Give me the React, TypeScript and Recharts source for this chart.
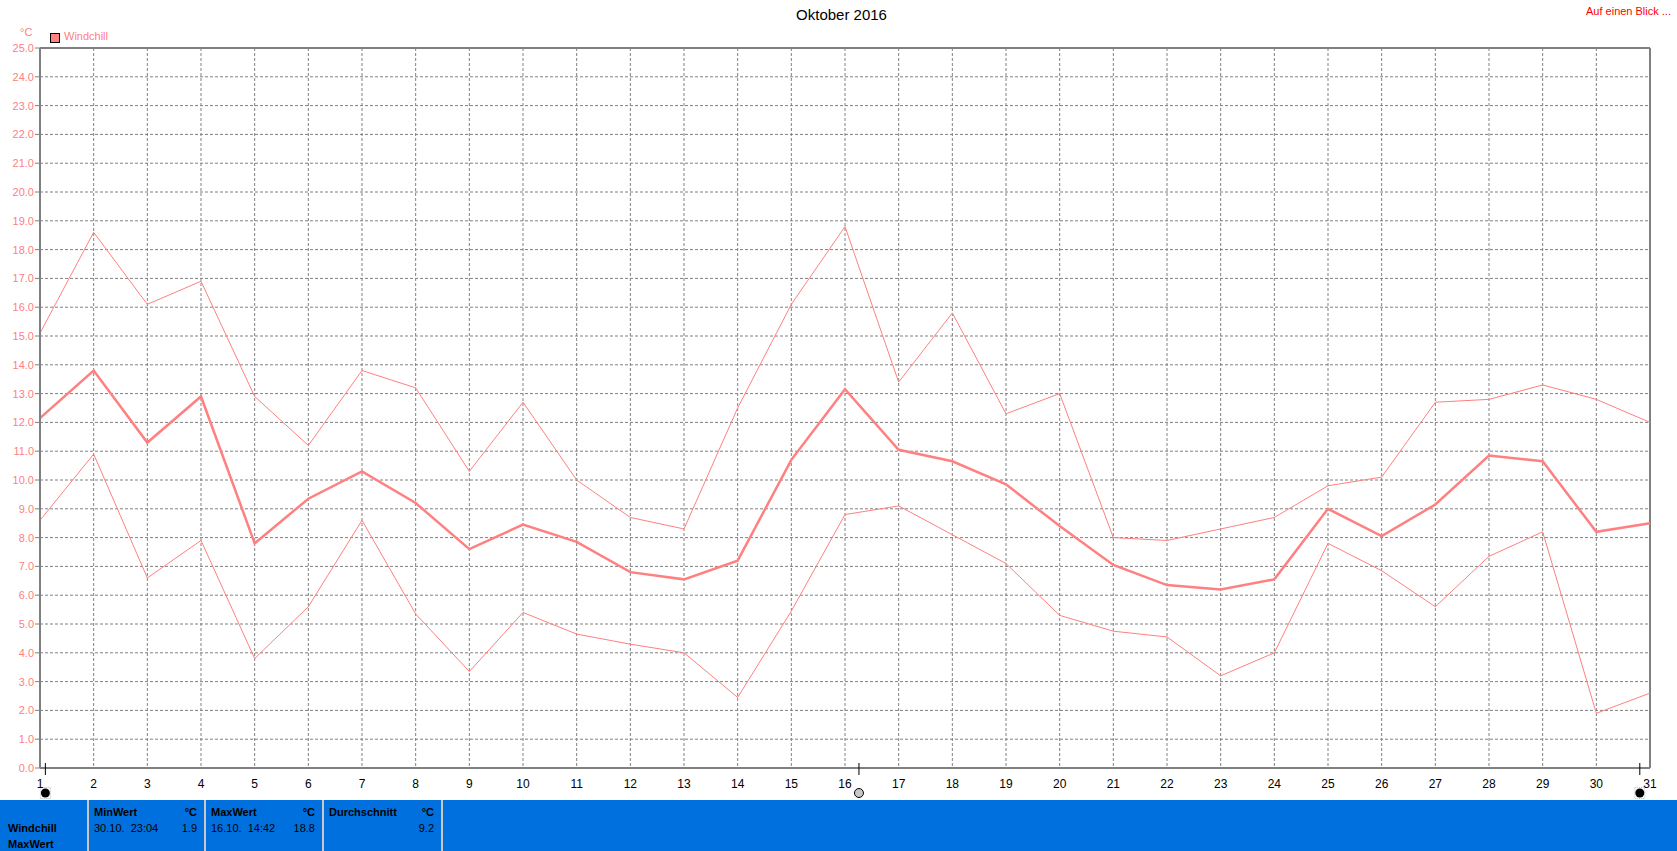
import React from "react";
import {
  LineChart,
  Line,
  XAxis,
  YAxis,
  CartesianGrid,
  ReferenceLine,
  ReferenceDot,
} from "recharts";

const days = [1, 2, 3, 4, 5, 6, 7, 8, 9, 10, 11, 12, 13, 14, 15, 16, 17, 18, 19, 20, 21, 22, 23, 24, 25, 26, 27, 28, 29, 30, 31];
const maxValues = [15.1, 18.6, 16.1, 16.9, 12.9, 11.2, 13.8, 13.2, 10.3, 12.7, 10.0, 8.7, 8.3, 12.5, 16.1, 18.8, 13.4, 15.8, 12.3, 13.0, 8.0, 7.9, 8.3, 8.7, 9.8, 10.1, 12.7, 12.8, 13.3, 12.8, 12.0];
const avgValues = [12.15, 13.8, 11.3, 12.9, 7.8, 9.35, 10.3, 9.2, 7.6, 8.45, 7.85, 6.8, 6.55, 7.2, 10.7, 13.15, 11.05, 10.65, 9.85, 8.4, 7.05, 6.35, 6.2, 6.55, 9.0, 8.05, 9.15, 10.85, 10.65, 8.2, 8.5];
const minValues = [8.6, 10.9, 6.6, 7.9, 3.8, 5.6, 8.6, 5.35, 3.35, 5.4, 4.65, 4.3, 4.0, 2.45, 5.45, 8.8, 9.1, 8.1, 7.1, 5.3, 4.75, 4.55, 3.2, 4.0, 7.8, 6.85, 5.6, 7.35, 8.2, 1.9, 2.6];
const yTicks = [0, 1, 2, 3, 4, 5, 6, 7, 8, 9, 10, 11, 12, 13, 14, 15, 16, 17, 18, 19, 20, 21, 22, 23, 24, 25];
const markerDays = [1.1, 16.26, 30.81];
const markerKinds = ["solid", "hatched", "solid"];

const tableHeaders = ["MinWert", "MaxWert", "Durchschnitt"];
const tableTimes = ["30.10.  23:04", "16.10.  14:42", ""];
const tableValues = ["1.9", "18.8", "9.2"];

const chartData = days.map((d, i) => ({
  day: d,
  max: maxValues[i],
  avg: avgValues[i],
  min: minValues[i],
}));

const PINK = "#FF8080";
const GRID = "#808080";
const FONT = "'Liberation Sans', Arial, sans-serif";

const MarkerShape = (kind: string) => (props: any) => {
  const { cx, cy } = props;
  if (cx == null || cy == null) return <g />;
  return (
    <g>
      <line x1={cx} y1={cy - 5} x2={cx} y2={cy + 7} stroke="#000" strokeWidth={1} />
      {kind === "solid" ? (
        <g>
          <rect x={cx - 5} y={cy + 19.5} width={10} height={11} fill="none" stroke="#bbb" strokeDasharray="1 1" />
          <circle cx={cx} cy={cy + 25} r={4.5} fill="#000" />
        </g>
      ) : (
        <circle cx={cx} cy={cy + 25} r={4.5} fill="#c8c8c8" stroke="#000" strokeWidth={1} />
      )}
    </g>
  );
};

const colLefts = [0, 89, 206, 324, 443];

export default function App() {
  return (
    <div style={{ position: "absolute", left: 0, top: 0, width: 1677, height: 851, background: "#fff", fontFamily: FONT, overflow: "hidden" }}>
      <div style={{ position: "absolute", left: 0, width: 1677, top: 6, textAlign: "center", fontSize: 15, color: "#000", paddingLeft: 3 }}>
        Oktober 2016
      </div>
      <div style={{ position: "absolute", right: 6, top: 5, fontSize: 11, color: "#FF0000" }}>Auf einen Blick ...</div>
      <div style={{ position: "absolute", left: 20, top: 26, fontSize: 11, color: PINK }}>°C</div>
      <div style={{ position: "absolute", left: 50, top: 33, width: 8, height: 8, background: PINK, border: "1px solid #000" }} />
      <div style={{ position: "absolute", left: 64, top: 30, fontSize: 11, color: PINK }}>Windchill</div>

      <div style={{ position: "absolute", left: 0, top: 0 }}>
        <LineChart width={1677} height={800} data={chartData} margin={{ top: 48, right: 27, bottom: 0, left: 0 }}>
          <CartesianGrid stroke={GRID} strokeDasharray="3 2" />
          <XAxis
            dataKey="day"
            type="number"
            domain={[1, 31]}
            ticks={days}
            interval={0}
            height={32}
            axisLine={{ stroke: GRID, strokeWidth: 2 }}
            tickLine={false}
            tick={{ fill: "#000", fontSize: 12, fontFamily: FONT }}
            tickMargin={5}
          />
          <YAxis
            type="number"
            domain={[0, 25]}
            ticks={yTicks}
            interval={0}
            width={40}
            axisLine={{ stroke: GRID, strokeWidth: 2 }}
            tickLine={{ stroke: GRID }}
            tickSize={5}
            tickMargin={1}
            tickFormatter={(v: number) => v.toFixed(1)}
            tick={{ fill: PINK, fontSize: 11, fontFamily: FONT }}
          />
          <ReferenceLine y={25} stroke={GRID} strokeWidth={2} />
          <ReferenceLine x={31} stroke={GRID} strokeWidth={2} />
          <Line type="linear" dataKey="max" stroke={PINK} strokeWidth={1} dot={false} isAnimationActive={false} />
          <Line type="linear" dataKey="min" stroke={PINK} strokeWidth={1} dot={false} isAnimationActive={false} />
          <Line type="linear" dataKey="avg" stroke={PINK} strokeWidth={2.5} dot={false} isAnimationActive={false} />
          {markerDays.map((d, i) => (
            <ReferenceDot key={i} x={d} y={0} ifOverflow="visible" shape={MarkerShape(markerKinds[i])} />
          ))}
        </LineChart>
      </div>

      <div style={{ position: "absolute", left: 0, top: 800, width: 1677, height: 51, background: "#0070DE" }}>
        {colLefts.slice(1).map((x, i) => (
          <div key={i} style={{ position: "absolute", left: x - 2, top: 0, width: 2, height: 51, background: "#c8c8c8" }} />
        ))}
        <div style={{ position: "absolute", left: 8, top: 22, fontSize: 11, fontWeight: "bold", color: "#000" }}>Windchill</div>
        <div style={{ position: "absolute", left: 8, top: 38, fontSize: 11, fontWeight: "bold", color: "#000" }}>MaxWert</div>
        {tableHeaders.map((h, i) => (
          <div key={i} style={{ position: "absolute", left: colLefts[i + 1] + 5, top: 6, width: colLefts[i + 2] - colLefts[i + 1] - 14, fontSize: 11, color: "#000" }}>
            <span style={{ fontWeight: "bold" }}>{h}</span>
            <span style={{ position: "absolute", right: 0, fontWeight: "bold" }}>°C</span>
            <div style={{ position: "absolute", left: 0, top: 16, whiteSpace: "pre" }}>{tableTimes[i]}</div>
            <div style={{ position: "absolute", right: 0, top: 16 }}>{tableValues[i]}</div>
          </div>
        ))}
      </div>
    </div>
  );
}
